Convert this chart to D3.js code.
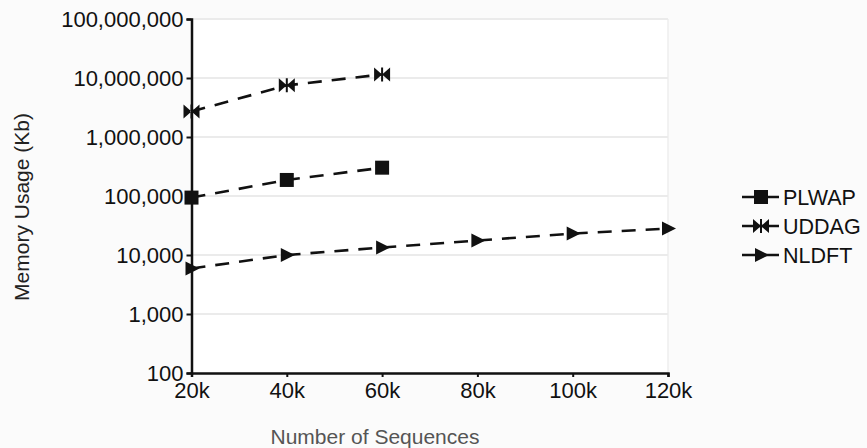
<!DOCTYPE html>
<html><head><meta charset="utf-8">
<script src="https://cdn.jsdelivr.net/npm/d3@7"></script>
<style>
html,body{margin:0;padding:0;background:#fbfbfb;}
svg{display:block;font-family:"Liberation Sans",Arial,sans-serif;}
</style></head>
<body>
<svg id="c" width="867" height="448"></svg>
<script>
const categories = [20000, 40000, 60000, 80000, 100000, 120000];
const xTickLabels = ["20k", "40k", "60k", "80k", "100k", "120k"];
const yTickValues = [100, 1000, 10000, 100000, 1000000, 10000000, 100000000];
const plwap = [94000, 187000, 302000];
const uddag = [2700000, 7500000, 11500000];
const nldft = [5900, 10000, 13400, 17600, 23100, 28100];
const seriesNames = ["PLWAP", "UDDAG", "NLDFT"];

(function () {
const svg = d3.select("#c");
const pLeft = 191.5, pRight = 668, pTop = 19, pBottom = 373;

const x = d3.scaleLinear().domain([20000, 120000]).range([pLeft, pRight]);
const y = d3.scaleLog().domain([100, 100000000]).range([pBottom, pTop]);

// plot area
svg.append("rect").attr("x", pLeft).attr("y", pTop).attr("width", pRight - pLeft).attr("height", pBottom - pTop)
  .attr("fill", "#ffffff");
svg.append("line").attr("x1", pRight).attr("x2", pRight).attr("y1", pTop).attr("y2", pBottom)
  .attr("stroke", "#eeeeee").attr("stroke-width", 1.5);

// gridlines
svg.append("g").selectAll("line").data(yTickValues.slice(1)).join("line")
  .attr("x1", pLeft).attr("x2", pRight)
  .attr("y1", d => y(d)).attr("y2", d => y(d))
  .attr("stroke", "#ebebeb").attr("stroke-width", 2);

// axes
const fmt = d3.format(",");
const yAxis = svg.append("g").attr("transform", `translate(${pLeft},0)`)
  .call(d3.axisLeft(y).tickValues(yTickValues).tickFormat(d => fmt(d)).tickSize(5).tickPadding(3));
const xAxis = svg.append("g").attr("transform", `translate(0,${pBottom})`)
  .call(d3.axisBottom(x).tickValues(categories).tickFormat((d, i) => xTickLabels[i]).tickSize(4).tickPadding(5));
[yAxis, xAxis].forEach(a => {
  a.select(".domain").attr("stroke", "#111").attr("stroke-width", 2.5);
  a.selectAll(".tick line").attr("stroke", "#111").attr("stroke-width", 2);
  a.selectAll(".tick text").attr("fill", "#111").style("font-size", "22px")
    .style("font-family", "'Liberation Sans',Arial,sans-serif");
});
yAxis.selectAll(".tick text").attr("dy", "0.36em");

// axis titles
svg.append("text").attr("x", 375).attr("y", 444).attr("text-anchor", "middle")
  .attr("fill", "#555").style("font-size", "21px").text("Number of Sequences");
svg.append("text").attr("transform", "translate(29,207) rotate(-90)").attr("text-anchor", "middle")
  .attr("fill", "#222").style("font-size", "21px").text("Memory Usage (Kb)");

// markers
const sym = {
  PLWAP: "M-7,-7H7V7H-7Z",
  UDDAG: "M-8,-7L0,0L-8,7Z M8,-7L0,0L8,7Z M-1,-7V7H1V-7Z",
  NLDFT: "M-6,-7L8,0L-6,7Z"
};
const data = {PLWAP: plwap, UDDAG: uddag, NLDFT: nldft};
const line = d3.line().x((d, i) => x(categories[i])).y(d => y(d));

seriesNames.forEach(name => {
  const vals = data[name];
  svg.append("path").datum(vals).attr("d", line).attr("fill", "none")
    .attr("stroke", "#111").attr("stroke-width", 2.6).attr("stroke-dasharray", "14,10");
  svg.append("g").selectAll("path").data(vals).join("path")
    .attr("transform", (d, i) => `translate(${x(categories[i])},${y(d)})`)
    .attr("d", sym[name]).attr("fill", "#111");
});

// legend
const lg = svg.append("g");
const ly = [197, 226, 255];
seriesNames.forEach((name, i) => {
  lg.append("line").attr("x1", 742).attr("x2", 779).attr("y1", ly[i]).attr("y2", ly[i])
    .attr("stroke", "#111").attr("stroke-width", 2.4);
  lg.append("path").attr("transform", `translate(761,${ly[i]})`).attr("d", sym[name]).attr("fill", "#111");
  lg.append("text").attr("x", 783).attr("y", ly[i]).attr("dy", "0.36em")
    .attr("fill", "#111").style("font-size", "21.5px").text(name);
});
})();
</script>
</body></html>
